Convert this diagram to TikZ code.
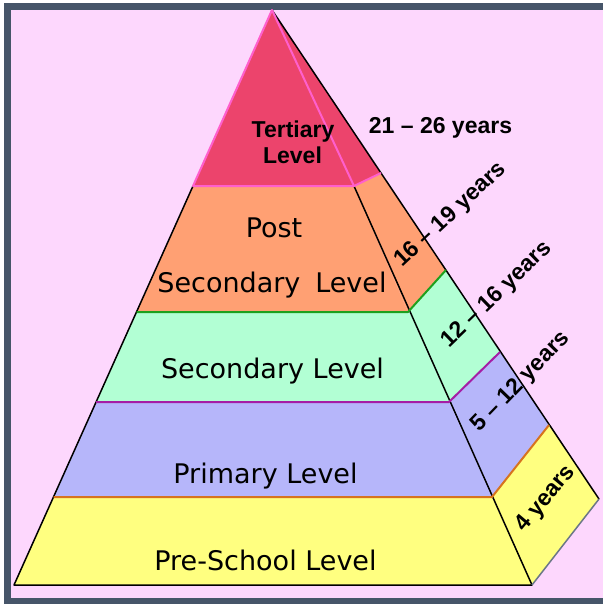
\documentclass[tikz,border=0pt]{standalone}
\usepackage{fontspec}
\setmainfont{DejaVu Sans}
\newfontfamily\arialf{Liberation Sans}
\definecolor{bgpink}{RGB}{253,215,253}
\definecolor{framec}{RGB}{70,85,105}
\definecolor{tert}{RGB}{236,68,108}
\definecolor{tertline}{RGB}{255,95,205}
\definecolor{postc}{RGB}{255,160,115}
\definecolor{secc}{RGB}{178,255,212}
\definecolor{primc}{RGB}{182,182,250}
\definecolor{prec}{RGB}{255,255,128}
\definecolor{greenl}{RGB}{30,160,30}
\definecolor{purplel}{RGB}{165,30,165}
\definecolor{orangel}{RGB}{215,115,30}
\tikzset{
  frontlabel/.style={anchor=base,inner sep=0pt,font=\fontsize{27}{30}\selectfont},
  boldlabel/.style={anchor=base,inner sep=0pt,font=\arialf\bfseries\fontsize{23}{26}\selectfont},
  sidelabel/.style={anchor=center,inner sep=0pt,font=\arialf\bfseries\fontsize{23}{26}\selectfont},
  edgeline/.style={draw=black,line width=1.5pt,line join=round},
  bandline/.style={line width=2pt,line join=round}
}
\begin{document}
\begin{tikzpicture}[x=1pt,y=-1pt]
\useasboundingbox (0,0) rectangle (603,606);
% background and frame
\fill[white] (0,0) rectangle (603,606);
\fill[bgpink] (11,10) rectangle (603,598);
\fill[framec] (4,3) rectangle (603,10);
\fill[framec] (4,3) rectangle (11,604);
\fill[framec] (4,598) rectangle (603,604);
% points
\coordinate (A) at (272,10);
\coordinate (T1) at (193,186); \coordinate (T2) at (354,186); \coordinate (T3) at (381,173);
\coordinate (G1) at (136.5,312); \coordinate (G2) at (408,312); \coordinate (G3) at (446,270);
\coordinate (P1) at (96,402); \coordinate (P2) at (449,402); \coordinate (P3) at (500,352);
\coordinate (O1) at (53.5,497); \coordinate (O2) at (492,497); \coordinate (O3) at (549,425);
\coordinate (B1) at (14,585); \coordinate (B2) at (532,585); \coordinate (B3) at (599,499);
% fills
\fill[postc] (T1) -- (G1) -- (G2) -- (T2) -- cycle;
\fill[postc] (T2) -- (G2) -- (G3) -- (T3) -- cycle;
\fill[secc] (G1) -- (P1) -- (P2) -- (G2) -- cycle;
\fill[secc] (G2) -- (P2) -- (P3) -- (G3) -- cycle;
\fill[primc] (P1) -- (O1) -- (O2) -- (P2) -- cycle;
\fill[primc] (P2) -- (O2) -- (O3) -- (P3) -- cycle;
\fill[prec] (O1) -- (B1) -- (B2) -- (O2) -- cycle;
\fill[prec] (O2) -- (B2) -- (B3) -- (O3) -- cycle;
\fill[tert] (A) -- (T1) -- (T2) -- cycle;
\fill[tert] (A) -- (T2) -- (T3) -- cycle;
% edges
\draw[edgeline] (T1) -- (B1) -- (B2) -- (T2);
\draw[edgeline] (A) -- (B3);
\draw[draw=framec!80,line width=1.5pt] (B2) -- (B3);
\draw[bandline,greenl] (G1) -- (G2) -- (G3);
\draw[bandline,purplel] (P1) -- (P2) -- (P3);
\draw[bandline,orangel] (O1) -- (O2) -- (O3);
\draw[tertline,line width=2pt,line join=round] (A) -- (T1) -- (T2) -- cycle;
\draw[tertline,line width=2pt,line join=round] (T2) -- (T3);
% front labels
\node[frontlabel] (lpost) at (274,237) {Post};
\node[frontlabel] (lpostsec) at (272,292) {Secondary\hspace{0.55em}Level};
\node[frontlabel] (lsec) at (272.5,378) {Secondary Level};
\node[frontlabel] (lprim) at (265.5,483) {Primary Level};
\node[frontlabel] (lpre) at (265.5,570) {Pre-School Level};
\node[boldlabel] (ltert) at (293,137) {Tertiary};
\node[boldlabel] (ltertb) at (292.5,163) {Level};
\node[boldlabel] (lage1) at (440.5,133) {21 – 26 years};
% side labels
\node[sidelabel,rotate=43] (lage2) at (451,215) {16 – 19 years};
\node[sidelabel,rotate=44] (lage3) at (497,295) {12 – 16 years};
\node[sidelabel,rotate=46] (lage4) at (521,382) {5 – 12 years};
\node[sidelabel,rotate=50] (lage5) at (546,499) {4 years};
\end{tikzpicture}
\end{document}
